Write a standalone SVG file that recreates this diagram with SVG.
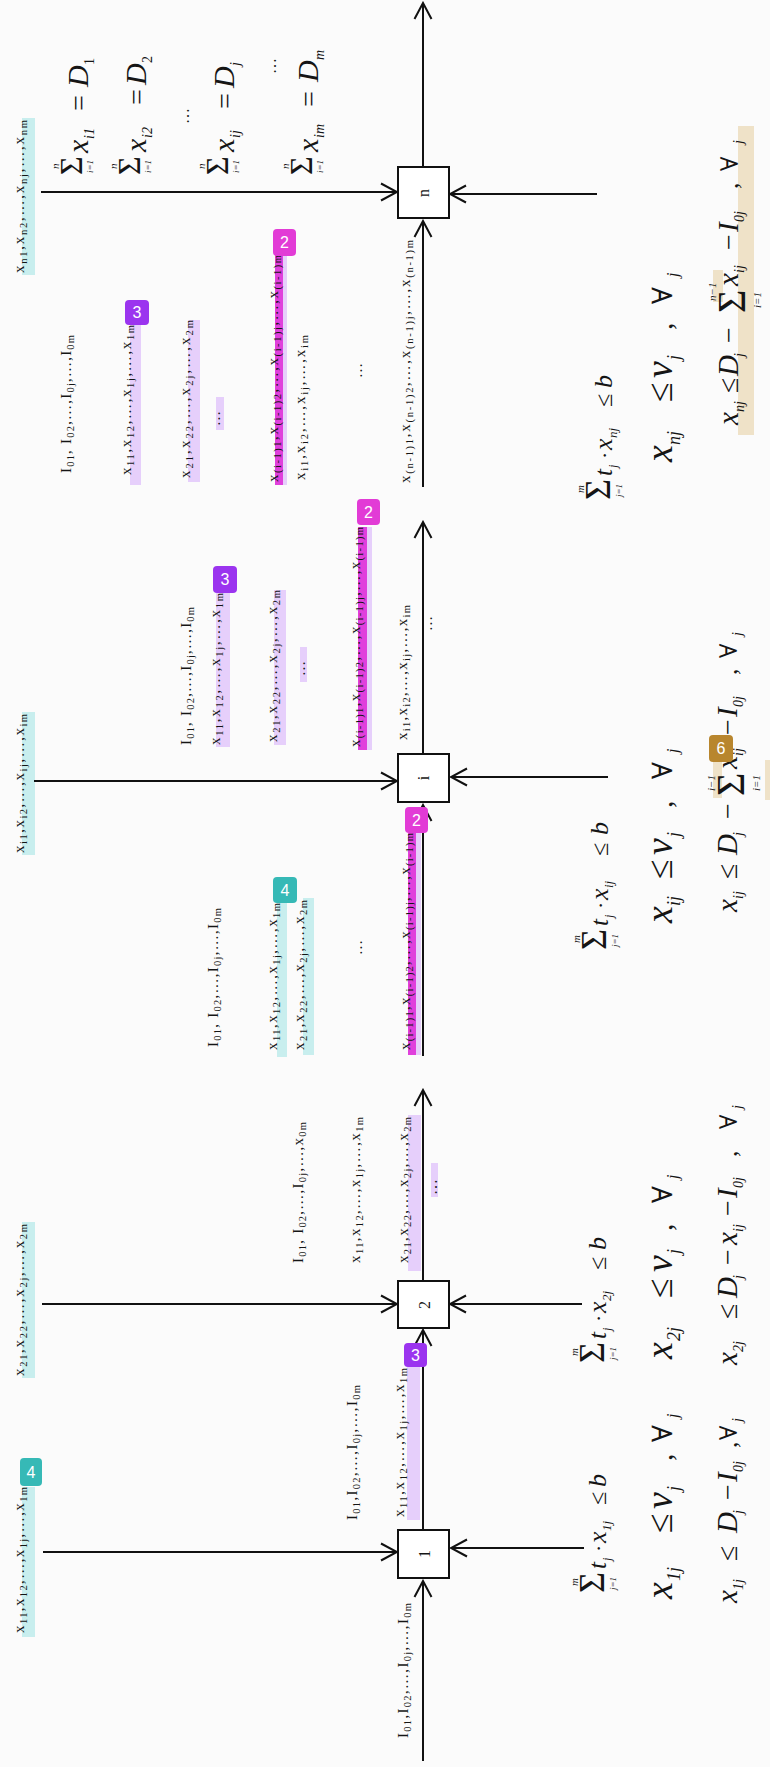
<svg xmlns="http://www.w3.org/2000/svg" width="770" height="1767" viewBox="0 0 770 1767">
<style>
text{font-family:"Liberation Serif","DejaVu Serif",serif;fill:#151515}
.l{font-size:15px}
.s{font-size:10.5px}
.i{font-style:italic}
.box{fill:#fff;stroke:#111;stroke-width:2}
.ln{stroke:#111;stroke-width:2;fill:none}
.cy{fill:#c8eeee}
.pu{fill:#e6cffb}
.mg{fill:#e040dc}
.tn{fill:#efe2c8}
.bd{font-family:"Liberation Sans",Arial,sans-serif;font-size:16px;fill:#fff;text-anchor:middle}
</style>
<defs>
<marker id="ah" markerWidth="20" markerHeight="20" viewBox="0 0 20 20" refX="18" refY="10" orient="auto" markerUnits="userSpaceOnUse"><path d="M2,1.5 L18,10 L2,18.5" fill="none" stroke="#111" stroke-width="2"/></marker>
</defs>
<rect width="770" height="1767" fill="#fbfbfb"/>

<g id="highlights">
<rect class="cy" x="22" y="1487" width="13" height="150"/>
<rect class="cy" x="22" y="1222" width="13" height="156"/>
<rect class="cy" x="22" y="712" width="13" height="143"/>
<rect class="cy" x="22" y="118" width="13" height="157"/>
<rect class="cy" x="277" y="903" width="10" height="154"/>
<rect class="cy" x="303" y="898" width="11" height="157"/>
<rect class="pu" x="407" y="1367" width="13" height="153"/>
<rect class="pu" x="408" y="1115" width="13" height="156"/>
<rect class="pu" x="431" y="1163" width="7" height="34"/>
<rect class="pu" x="216" y="593" width="14" height="154"/>
<rect class="pu" x="274" y="590" width="12" height="155"/>
<rect class="pu" x="300" y="647" width="7" height="35"/>
<rect class="pu" x="130" y="325" width="11" height="160"/>
<rect class="pu" x="188" y="320" width="12" height="162"/>
<rect class="pu" x="216" y="397" width="8" height="33"/>
<rect class="pu" x="408" y="833" width="13" height="222"/>
<rect class="mg" x="408" y="833" width="8" height="222"/>
<rect class="pu" x="358" y="527" width="14" height="223"/>
<rect class="mg" x="358" y="527" width="9" height="223"/>
<rect class="pu" x="275" y="255" width="12" height="230"/>
<rect class="mg" x="275" y="255" width="8" height="230"/>
<rect class="tn" x="738" y="126" width="16" height="309"/>
<rect class="tn" x="713" y="270" width="10" height="32"/>
<rect class="tn" x="713" y="760" width="9" height="38"/>
<rect class="tn" x="765" y="760" width="5" height="40"/>
</g>

<g id="connectors">
<path class="ln" d="M423,1761 V1581" marker-end="url(#ah)"/>
<path class="ln" d="M423,1529 V1330" marker-end="url(#ah)"/>
<path class="ln" d="M423,1281 V1090" marker-end="url(#ah)"/>
<path class="ln" d="M423,1056 V805" marker-end="url(#ah)"/>
<path class="ln" d="M423,754 V522" marker-end="url(#ah)"/>
<path class="ln" d="M423,487 V221" marker-end="url(#ah)"/>
<path class="ln" d="M423,167 V3" marker-end="url(#ah)"/>
<path class="ln" d="M43,1552 H397" marker-end="url(#ah)"/>
<path class="ln" d="M42,1304 H397" marker-end="url(#ah)"/>
<path class="ln" d="M34,781 H397" marker-end="url(#ah)"/>
<path class="ln" d="M41,192 H397" marker-end="url(#ah)"/>
<path class="ln" d="M584,1548 H451" marker-end="url(#ah)"/>
<path class="ln" d="M582,1304 H450" marker-end="url(#ah)"/>
<path class="ln" d="M608,777 H451" marker-end="url(#ah)"/>
<path class="ln" d="M597,194 H450" marker-end="url(#ah)"/>
</g>

<g id="node-1"><rect class="box" x="398" y="1530" width="51" height="48"/><text transform="translate(430,1554) rotate(-90)" text-anchor="middle" font-size="16">1</text></g>
<g id="node-2"><rect class="box" x="398" y="1281" width="51" height="47"/><text transform="translate(430,1305) rotate(-90)" text-anchor="middle" font-size="16" font-family="Liberation Sans">2</text></g>
<g id="node-i"><rect class="box" x="398" y="754" width="51" height="48"/><text transform="translate(429,778) rotate(-90)" text-anchor="middle" font-size="16">i</text></g>
<g id="node-n"><rect class="box" x="398" y="167" width="51" height="51"/><text transform="translate(429,193) rotate(-90)" text-anchor="middle" font-size="16">n</text></g>

<g id="labels">
<!-- box 1 -->
<text class="l" transform="translate(24,1633) rotate(-90)" textLength="146" lengthAdjust="spacing">x<tspan class="s" dy="3">11</tspan><tspan dy="-3">,x</tspan><tspan class="s" dy="3">12</tspan><tspan dy="-3">,…,x</tspan><tspan class="s" dy="3">1j</tspan><tspan dy="-3">,…,x</tspan><tspan class="s" dy="3">1m</tspan></text>
<text class="l" transform="translate(357,1520) rotate(-90)" textLength="135" lengthAdjust="spacing">I<tspan class="s" dy="3">01</tspan><tspan dy="-3">,I</tspan><tspan class="s" dy="3">02</tspan><tspan dy="-3">,…,I</tspan><tspan class="s" dy="3">0j</tspan><tspan dy="-3">,…,I</tspan><tspan class="s" dy="3">0m</tspan></text>
<text class="l" transform="translate(404,1517) rotate(-90)" textLength="149" lengthAdjust="spacing">x<tspan class="s" dy="3">11</tspan><tspan dy="-3">,x</tspan><tspan class="s" dy="3">12</tspan><tspan dy="-3">,…,x</tspan><tspan class="s" dy="3">1j</tspan><tspan dy="-3">,…,x</tspan><tspan class="s" dy="3">1m</tspan></text>
<text class="l" transform="translate(408,1738) rotate(-90)" textLength="135" lengthAdjust="spacing">I<tspan class="s" dy="3">01</tspan><tspan dy="-3">,I</tspan><tspan class="s" dy="3">02</tspan><tspan dy="-3">,…,I</tspan><tspan class="s" dy="3">0j</tspan><tspan dy="-3">,…,I</tspan><tspan class="s" dy="3">0m</tspan></text>
<!-- box 2 -->
<text class="l" transform="translate(24,1376) rotate(-90)" textLength="152" lengthAdjust="spacing">x<tspan class="s" dy="3">21</tspan><tspan dy="-3">,x</tspan><tspan class="s" dy="3">22</tspan><tspan dy="-3">,…,x</tspan><tspan class="s" dy="3">2j</tspan><tspan dy="-3">,…,x</tspan><tspan class="s" dy="3">2m</tspan></text>
<text class="l" transform="translate(303,1263) rotate(-90)" textLength="141" lengthAdjust="spacing">I<tspan class="s" dy="3">01</tspan><tspan dy="-3">, I</tspan><tspan class="s" dy="3">02</tspan><tspan dy="-3">,…,I</tspan><tspan class="s" dy="3">0j</tspan><tspan dy="-3">,…,x</tspan><tspan class="s" dy="3">0m</tspan></text>
<text class="l" transform="translate(360,1263) rotate(-90)" textLength="146" lengthAdjust="spacing">x<tspan class="s" dy="3">11</tspan><tspan dy="-3">,x</tspan><tspan class="s" dy="3">12</tspan><tspan dy="-3">,…,x</tspan><tspan class="s" dy="3">1j</tspan><tspan dy="-3">,…,x</tspan><tspan class="s" dy="3">1m</tspan></text>
<text class="l" transform="translate(408,1263) rotate(-90)" textLength="146" lengthAdjust="spacing">x<tspan class="s" dy="3">21</tspan><tspan dy="-3">,x</tspan><tspan class="s" dy="3">22</tspan><tspan dy="-3">,…,x</tspan><tspan class="s" dy="3">2j</tspan><tspan dy="-3">,…,x</tspan><tspan class="s" dy="3">2m</tspan></text>
<text transform="translate(437,1195) rotate(-90)" font-size="16">…</text>
<!-- box i, below -->
<text class="l" transform="translate(24,853) rotate(-90)" textLength="139" lengthAdjust="spacing">x<tspan class="s" dy="3">i1</tspan><tspan dy="-3">,x</tspan><tspan class="s" dy="3">i2</tspan><tspan dy="-3">,…,x</tspan><tspan class="s" dy="3">ij</tspan><tspan dy="-3">,…,x</tspan><tspan class="s" dy="3">im</tspan></text>
<text class="l" transform="translate(218,1047) rotate(-90)" textLength="139" lengthAdjust="spacing">I<tspan class="s" dy="3">01</tspan><tspan dy="-3">, I</tspan><tspan class="s" dy="3">02</tspan><tspan dy="-3">,…,I</tspan><tspan class="s" dy="3">0j</tspan><tspan dy="-3">,…,I</tspan><tspan class="s" dy="3">0m</tspan></text>
<text class="l" transform="translate(277,1050) rotate(-90)" textLength="147" lengthAdjust="spacing">x<tspan class="s" dy="3">11</tspan><tspan dy="-3">,x</tspan><tspan class="s" dy="3">12</tspan><tspan dy="-3">,…,x</tspan><tspan class="s" dy="3">1j</tspan><tspan dy="-3">,…,x</tspan><tspan class="s" dy="3">1m</tspan></text>
<text class="l" transform="translate(304,1050) rotate(-90)" textLength="150" lengthAdjust="spacing">x<tspan class="s" dy="3">21</tspan><tspan dy="-3">,x</tspan><tspan class="s" dy="3">22</tspan><tspan dy="-3">,…,x</tspan><tspan class="s" dy="3">2j</tspan><tspan dy="-3">,…,x</tspan><tspan class="s" dy="3">2m</tspan></text>
<text transform="translate(362,955) rotate(-90)" font-size="15">…</text>
<text class="l" transform="translate(410,1050) rotate(-90)" textLength="217" lengthAdjust="spacing">x<tspan class="s" dy="3">(i-1)1</tspan><tspan dy="-3">,x</tspan><tspan class="s" dy="3">(i-1)2</tspan><tspan dy="-3">,…,x</tspan><tspan class="s" dy="3">(i-1)j</tspan><tspan dy="-3">,…,x</tspan><tspan class="s" dy="3">(i-1)m</tspan></text>
<!-- box i, above -->
<text class="l" transform="translate(191,745) rotate(-90)" textLength="138" lengthAdjust="spacing">I<tspan class="s" dy="3">01</tspan><tspan dy="-3">, I</tspan><tspan class="s" dy="3">02</tspan><tspan dy="-3">,…,I</tspan><tspan class="s" dy="3">0j</tspan><tspan dy="-3">,…,I</tspan><tspan class="s" dy="3">0m</tspan></text>
<text class="l" transform="translate(220,745) rotate(-90)" textLength="152" lengthAdjust="spacing">x<tspan class="s" dy="3">11</tspan><tspan dy="-3">,x</tspan><tspan class="s" dy="3">12</tspan><tspan dy="-3">,…,x</tspan><tspan class="s" dy="3">1j</tspan><tspan dy="-3">,…,x</tspan><tspan class="s" dy="3">1m</tspan></text>
<text class="l" transform="translate(277,742) rotate(-90)" textLength="152" lengthAdjust="spacing">x<tspan class="s" dy="3">21</tspan><tspan dy="-3">,x</tspan><tspan class="s" dy="3">22</tspan><tspan dy="-3">,…,x</tspan><tspan class="s" dy="3">2j</tspan><tspan dy="-3">,…,x</tspan><tspan class="s" dy="3">2m</tspan></text>
<text transform="translate(305,676) rotate(-90)" font-size="15">…</text>
<text class="l" transform="translate(360,747) rotate(-90)" textLength="220" lengthAdjust="spacing">x<tspan class="s" dy="3">(i-1)1</tspan><tspan dy="-3">,x</tspan><tspan class="s" dy="3">(i-1)2</tspan><tspan dy="-3">,…,x</tspan><tspan class="s" dy="3">(i-1)j</tspan><tspan dy="-3">,…,x</tspan><tspan class="s" dy="3">(i-1)m</tspan></text>
<text class="l" transform="translate(407,740) rotate(-90)" textLength="135" lengthAdjust="spacing">x<tspan class="s" dy="3">i1</tspan><tspan dy="-3">,x</tspan><tspan class="s" dy="3">i2</tspan><tspan dy="-3">,…,x</tspan><tspan class="s" dy="3">ij</tspan><tspan dy="-3">,…,x</tspan><tspan class="s" dy="3">im</tspan></text>
<text transform="translate(432,631) rotate(-90)" font-size="15">…</text>
<!-- box n -->
<text class="l" transform="translate(24,273) rotate(-90)" textLength="153" lengthAdjust="spacing">x<tspan class="s" dy="3">n1</tspan><tspan dy="-3">,x</tspan><tspan class="s" dy="3">n2</tspan><tspan dy="-3">,…,x</tspan><tspan class="s" dy="3">nj</tspan><tspan dy="-3">,…,x</tspan><tspan class="s" dy="3">nm</tspan></text>
<text class="l" transform="translate(71,473) rotate(-90)" textLength="138" lengthAdjust="spacing">I<tspan class="s" dy="3">01</tspan><tspan dy="-3">, I</tspan><tspan class="s" dy="3">02</tspan><tspan dy="-3">,…,I</tspan><tspan class="s" dy="3">0j</tspan><tspan dy="-3">,…,I</tspan><tspan class="s" dy="3">0m</tspan></text>
<text class="l" transform="translate(131,475) rotate(-90)" textLength="150" lengthAdjust="spacing">x<tspan class="s" dy="3">11</tspan><tspan dy="-3">,x</tspan><tspan class="s" dy="3">12</tspan><tspan dy="-3">,…,x</tspan><tspan class="s" dy="3">1j</tspan><tspan dy="-3">,…,x</tspan><tspan class="s" dy="3">1m</tspan></text>
<text class="l" transform="translate(190,478) rotate(-90)" textLength="158" lengthAdjust="spacing">x<tspan class="s" dy="3">21</tspan><tspan dy="-3">,x</tspan><tspan class="s" dy="3">22</tspan><tspan dy="-3">,…,x</tspan><tspan class="s" dy="3">2j</tspan><tspan dy="-3">,…,x</tspan><tspan class="s" dy="3">2m</tspan></text>
<text transform="translate(220,426) rotate(-90)" font-size="15">…</text>
<text class="l" transform="translate(278,482) rotate(-90)" textLength="227" lengthAdjust="spacing">x<tspan class="s" dy="3">(i-1)1</tspan><tspan dy="-3">,x</tspan><tspan class="s" dy="3">(i-1)2</tspan><tspan dy="-3">,…,x</tspan><tspan class="s" dy="3">(i-1)j</tspan><tspan dy="-3">,…,x</tspan><tspan class="s" dy="3">(i-1)m</tspan></text>
<text class="l" transform="translate(305,480) rotate(-90)" textLength="145" lengthAdjust="spacing">x<tspan class="s" dy="3">i1</tspan><tspan dy="-3">,x</tspan><tspan class="s" dy="3">i2</tspan><tspan dy="-3">,…,x</tspan><tspan class="s" dy="3">ij</tspan><tspan dy="-3">,…,x</tspan><tspan class="s" dy="3">im</tspan></text>
<text transform="translate(362,378) rotate(-90)" font-size="15">…</text>
<text class="l" transform="translate(410,483) rotate(-90)" textLength="243" lengthAdjust="spacing">x<tspan class="s" dy="3">(n-1)1</tspan><tspan dy="-3">,x</tspan><tspan class="s" dy="3">(n-1)2</tspan><tspan dy="-3">,…,x</tspan><tspan class="s" dy="3">(n-1)j</tspan><tspan dy="-3">,…,x</tspan><tspan class="s" dy="3">(n-1)m</tspan></text>
</g>

<g id="formulas-top">
<g transform="translate(88,175) rotate(-90)"><text x="0" y="-6" font-size="32">Σ</text><text x="6" y="-29" font-size="11" class="i">n</text><text x="2" y="5" font-size="9" class="i">i=1</text><text x="22" y="0" font-size="30" class="i">x</text><text x="36" y="6" font-size="14" class="i">i1</text><text x="64" y="0" font-size="28">=</text><text x="88" y="0" font-size="30" class="i">D</text><text x="110" y="6" font-size="14">1</text></g>
<g transform="translate(146,175) rotate(-90)"><text x="0" y="-6" font-size="32">Σ</text><text x="6" y="-29" font-size="11" class="i">n</text><text x="2" y="5" font-size="9" class="i">i=1</text><text x="23" y="0" font-size="30" class="i">x</text><text x="37" y="6" font-size="14" class="i">i2</text><text x="70" y="0" font-size="28">=</text><text x="90" y="0" font-size="30" class="i">D</text><text x="112" y="6" font-size="14">2</text></g>
<text transform="translate(189,124) rotate(-90)" font-size="16">…</text>
<g transform="translate(234,175) rotate(-90)"><text x="0" y="-6" font-size="32">Σ</text><text x="6" y="-29" font-size="11" class="i">n</text><text x="2" y="5" font-size="9" class="i">i=1</text><text x="23" y="0" font-size="30" class="i">x</text><text x="37" y="6" font-size="14" class="i">ij</text><text x="66" y="0" font-size="28">=</text><text x="87" y="0" font-size="30" class="i">D</text><text x="109" y="6" font-size="14" class="i">j</text></g>
<text transform="translate(276,74) rotate(-90)" font-size="16">…</text>
<g transform="translate(318,175) rotate(-90)"><text x="0" y="-6" font-size="32">Σ</text><text x="6" y="-29" font-size="11" class="i">n</text><text x="2" y="5" font-size="9" class="i">i=1</text><text x="23" y="0" font-size="30" class="i">x</text><text x="37" y="6" font-size="14" class="i">im</text><text x="68" y="0" font-size="28">=</text><text x="93" y="0" font-size="30" class="i">D</text><text x="115" y="6" font-size="14" class="i">m</text></g>
</g>

<g id="formulas-right">
<!-- box 1 -->
<g transform="translate(606,1593) rotate(-90)"><text x="0" y="-2" font-size="36">Σ</text><text x="7" y="-28" font-size="11" class="i">m</text><text x="3" y="10" font-size="9" class="i">j=1</text><text x="24" y="0" font-size="25" class="i">t</text><text x="32" y="5" font-size="12" class="i">j</text><text x="41" y="0" font-size="22">·</text><text x="50" y="0" font-size="26" class="i">x</text><text x="62" y="5" font-size="13" class="i">1j</text><text x="88" y="0" font-size="24">≤</text><text x="106" y="0" font-size="26" class="i">b</text></g>
<g transform="translate(672,1600) rotate(-90)"><text x="1" y="0" font-size="38" class="i">x</text><text x="19" y="8" font-size="18" class="i">1j</text><text x="67" y="0" font-size="36">≤</text><text x="91" y="0" font-size="38" class="i">v</text><text x="109" y="8" font-size="18" class="i">j</text><text x="139" y="0" font-size="30">,</text><text x="158" y="0" font-size="28">∀</text><text x="182" y="6" font-size="16" class="i">j</text></g>
<g transform="translate(737,1603) rotate(-90)"><text x="0" y="0" font-size="29" class="i">x</text><text x="13" y="6" font-size="14" class="i">1j</text><text x="42" y="0" font-size="28">≤</text><text x="70" y="0" font-size="29" class="i">D</text><text x="89" y="6" font-size="14" class="i">j</text><text x="103" y="0" font-size="28">−</text><text x="121" y="0" font-size="29" class="i">I</text><text x="131" y="6" font-size="14" class="i">0j</text><text x="155" y="0" font-size="26">,</text><text x="163" y="0" font-size="24">∀</text><text x="181" y="5" font-size="14" class="i">j</text></g>
<!-- box 2 -->
<g transform="translate(606,1363) rotate(-90)"><text x="0" y="-2" font-size="36">Σ</text><text x="7" y="-28" font-size="11" class="i">m</text><text x="3" y="10" font-size="9" class="i">j=1</text><text x="24" y="0" font-size="25" class="i">t</text><text x="32" y="5" font-size="12" class="i">j</text><text x="41" y="0" font-size="22">·</text><text x="50" y="0" font-size="26" class="i">x</text><text x="62" y="5" font-size="13" class="i">2j</text><text x="93" y="0" font-size="24">≤</text><text x="113" y="0" font-size="26" class="i">b</text></g>
<g transform="translate(672,1360) rotate(-90)"><text x="1" y="0" font-size="38" class="i">x</text><text x="19" y="8" font-size="18" class="i">2j</text><text x="62" y="0" font-size="36">≤</text><text x="88" y="0" font-size="38" class="i">v</text><text x="106" y="8" font-size="18" class="i">j</text><text x="129" y="0" font-size="30">,</text><text x="157" y="0" font-size="28">∀</text><text x="181" y="6" font-size="16" class="i">j</text></g>
<g transform="translate(737,1365) rotate(-90)"><text x="0" y="0" font-size="29" class="i">x</text><text x="13" y="6" font-size="14" class="i">2j</text><text x="46" y="0" font-size="28">≤</text><text x="67" y="0" font-size="29" class="i">D</text><text x="86" y="6" font-size="14" class="i">j</text><text x="100" y="0" font-size="28">−</text><text x="120" y="0" font-size="29" class="i">x</text><text x="133" y="6" font-size="14" class="i">ij</text><text x="149" y="0" font-size="28">−</text><text x="167" y="0" font-size="29" class="i">I</text><text x="177" y="6" font-size="14" class="i">0j</text><text x="208" y="0" font-size="26">,</text><text x="236" y="0" font-size="24">∀</text><text x="256" y="5" font-size="14" class="i">j</text></g>
<!-- box i -->
<g transform="translate(608,950) rotate(-90)"><text x="0" y="-2" font-size="36">Σ</text><text x="7" y="-28" font-size="11" class="i">m</text><text x="3" y="10" font-size="9" class="i">j=1</text><text x="24" y="0" font-size="25" class="i">t</text><text x="32" y="5" font-size="12" class="i">j</text><text x="41" y="0" font-size="22">·</text><text x="50" y="0" font-size="26" class="i">x</text><text x="62" y="5" font-size="13" class="i">ij</text><text x="94" y="0" font-size="24">≤</text><text x="115" y="0" font-size="26" class="i">b</text></g>
<g transform="translate(672,923) rotate(-90)"><text x="0" y="0" font-size="38" class="i">x</text><text x="17" y="8" font-size="18" class="i">ij</text><text x="44" y="0" font-size="36">≤</text><text x="68" y="0" font-size="38" class="i">v</text><text x="86" y="8" font-size="18" class="i">j</text><text x="115" y="0" font-size="30">,</text><text x="144" y="0" font-size="28">∀</text><text x="170" y="6" font-size="16" class="i">j</text></g>
<g transform="translate(737,912) rotate(-90)"><text x="0" y="0" font-size="29" class="i">x</text><text x="13" y="6" font-size="14" class="i">ij</text><text x="33" y="0" font-size="28">≤</text><text x="57" y="0" font-size="29" class="i">D</text><text x="76" y="6" font-size="14" class="i">j</text><text x="93" y="0" font-size="28">−</text><text x="116" y="7" font-size="40">Σ</text><text x="121" y="-22" font-size="11" class="i">i−1</text><text x="121" y="23" font-size="11" class="i">i=1</text><text x="143" y="0" font-size="29" class="i">x</text><text x="156" y="6" font-size="14" class="i">ij</text><text x="177" y="0" font-size="28">−</text><text x="195" y="0" font-size="29" class="i">I</text><text x="205" y="6" font-size="14" class="i">0j</text><text x="237" y="0" font-size="26">,</text><text x="254" y="0" font-size="24">∀</text><text x="276" y="5" font-size="14" class="i">j</text></g>
<!-- box n -->
<g transform="translate(612,500) rotate(-90)"><text x="0" y="-2" font-size="36">Σ</text><text x="7" y="-28" font-size="11" class="i">m</text><text x="3" y="10" font-size="9" class="i">j=1</text><text x="24" y="0" font-size="25" class="i">t</text><text x="32" y="5" font-size="12" class="i">j</text><text x="41" y="0" font-size="22">·</text><text x="50" y="0" font-size="26" class="i">x</text><text x="62" y="5" font-size="13" class="i">nj</text><text x="93" y="0" font-size="24">≤</text><text x="112" y="0" font-size="26" class="i">b</text></g>
<g transform="translate(672,462) rotate(-90)"><text x="0" y="0" font-size="38" class="i">x</text><text x="17" y="8" font-size="18" class="i">nj</text><text x="60" y="0" font-size="36">≤</text><text x="84" y="0" font-size="38" class="i">v</text><text x="102" y="8" font-size="18" class="i">j</text><text x="132" y="0" font-size="30">,</text><text x="158" y="0" font-size="28">∀</text><text x="185" y="6" font-size="16" class="i">j</text></g>
<g transform="translate(738,425) rotate(-90)"><text x="0" y="0" font-size="29" class="i">x</text><text x="13" y="6" font-size="14" class="i">nj</text><text x="32" y="0" font-size="28">≤</text><text x="49" y="0" font-size="29" class="i">D</text><text x="68" y="6" font-size="14" class="i">j</text><text x="82" y="0" font-size="28">−</text><text x="112" y="7" font-size="40">Σ</text><text x="124" y="-22" font-size="11" class="i">n−1</text><text x="117" y="23" font-size="11" class="i">i=1</text><text x="139" y="0" font-size="29" class="i">x</text><text x="152" y="6" font-size="14" class="i">ij</text><text x="175" y="0" font-size="28">−</text><text x="193" y="0" font-size="29" class="i">I</text><text x="203" y="6" font-size="14" class="i">0j</text><text x="236" y="0" font-size="26">,</text><text x="254" y="0" font-size="24">∀</text><text x="281" y="5" font-size="14" class="i">j</text></g>
</g>

<g id="badges">
<rect x="20" y="1458" width="22" height="28" rx="4" fill="#36b9b6"/><text class="bd" x="31" y="1478">4</text>
<rect x="273" y="877" width="24" height="26" rx="4" fill="#36b9b6"/><text class="bd" x="285" y="896">4</text>
<rect x="404" y="1343" width="23" height="24" rx="4" fill="#9b34ef"/><text class="bd" x="415.5" y="1361">3</text>
<rect x="213" y="566" width="24" height="27" rx="4" fill="#9b34ef"/><text class="bd" x="225" y="585">3</text>
<rect x="125" y="300" width="24" height="25" rx="4" fill="#9b34ef"/><text class="bd" x="137" y="318">3</text>
<rect x="405" y="807" width="23" height="26" rx="4" fill="#e23bd6"/><text class="bd" x="416.5" y="826">2</text>
<rect x="357" y="499" width="23" height="26" rx="4" fill="#e23bd6"/><text class="bd" x="368.5" y="518">2</text>
<rect x="273" y="229" width="23" height="27" rx="4" fill="#e23bd6"/><text class="bd" x="284.5" y="248">2</text>
<rect x="709" y="735" width="24" height="27" rx="4" fill="#b8862e"/><text class="bd" x="721" y="754">6</text>
</g>
</svg>
